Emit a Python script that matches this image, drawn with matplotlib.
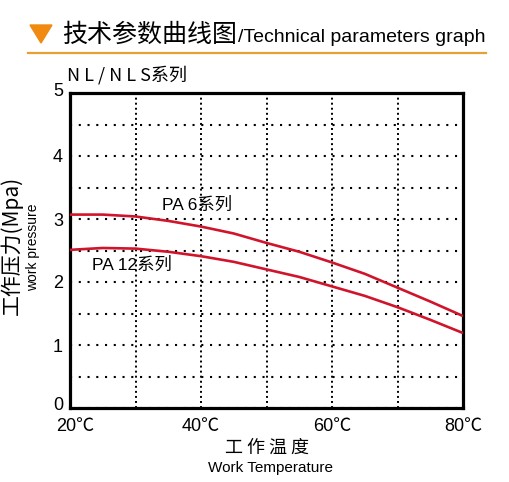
import matplotlib
matplotlib.use('Agg')
import matplotlib.pyplot as plt
from matplotlib.patches import Polygon
from matplotlib.lines import Line2D
from matplotlib.transforms import ScaledTranslation

plt.rcParams['font.family'] = ['Liberation Sans', 'Noto Sans CJK SC', 'DejaVu Sans']

# data
temps = [20, 25, 30, 35, 40, 45, 50, 55, 60, 65, 70, 75, 80]
pa6 = [3.07, 3.07, 3.04, 2.97, 2.88, 2.77, 2.62, 2.48, 2.31, 2.13, 1.91, 1.69, 1.46]
pa12 = [2.51, 2.54, 2.53, 2.48, 2.41, 2.32, 2.20, 2.08, 1.93, 1.78, 1.60, 1.40, 1.19]
xticks = [20, 40, 60, 80]
xtick_labels = ['20℃', '40℃', '60℃', '80℃']
yticks = [0, 1, 2, 3, 4, 5]

RED = '#d0142c'
ORANGE = '#f08a10'
cjk = ['Noto Sans CJK SC', 'DejaVu Sans']
mixed = ['Liberation Sans', 'Noto Sans CJK SC']

fig = plt.figure(figsize=(5.1, 4.82), dpi=100)
ax = fig.add_axes([70/510, 1-408/482, 393/510, 315/482])

ax.plot(temps, pa6, color=RED, lw=1.9, zorder=3, solid_capstyle='butt')
ax.plot(temps, pa12, color=RED, lw=1.9, zorder=3, solid_capstyle='butt')

ax.set_xlim(20, 80)
ax.set_ylim(0, 5)
ax.set_xticks(xticks)
ax.set_xticklabels(xtick_labels, family=mixed, fontsize=13)
ax.set_xticks(range(30, 80, 20), minor=True)
ax.set_yticks(yticks)
ax.set_yticks([i + 0.5 for i in range(5)], minor=True)
ax.tick_params(which='both', length=0)
ax.tick_params(axis='y', labelsize=13, pad=5)
ax.tick_params(axis='x', pad=7)

# nudge corner labels apart like the original
lbl0 = ax.get_yticklabels()[0]
lbl0.set_transform(lbl0.get_transform() + ScaledTranslation(0, 4/100, fig.dpi_scale_trans))
lbl5 = ax.get_yticklabels()[-1]
lbl5.set_transform(lbl5.get_transform() + ScaledTranslation(0, 3/100, fig.dpi_scale_trans))
lblx = ax.get_xticklabels()[0]
lblx.set_transform(lblx.get_transform() + ScaledTranslation(5/100, 0, fig.dpi_scale_trans))

# dotted grid, vertical dense, horizontal sparse
ax.xaxis.grid(True, which='both', color='black', lw=1.4, linestyle=(0, (1, 1.6)))
ax.yaxis.grid(True, which='both', color='black', lw=1.5, linestyle=(0, (1, 3.2)))
ax.set_axisbelow(True)
for s in ax.spines.values():
    s.set_linewidth(2.3)

ax.text(34.0, 3.22, 'PA 6系列', fontsize=12.5, family=mixed, va='center')
ax.text(23.4, 2.27, 'PA 12系列', fontsize=12.5, family=mixed, va='center')

# header
tri = Polygon([[30/510, 1-25/482], [52/510, 1-25/482], [41/510, 1-43/482]],
              closed=True, transform=fig.transFigure, color=ORANGE)
fig.patches.append(tri)
fig.lines.append(Line2D([28/510, 486/510], [1-53/482, 1-53/482], transform=fig.transFigure,
                        color='#e8a033', lw=1.6))
fig.text(62/510, 1-35/482, '技术参数曲线图', family=cjk, fontsize=18, va='center')
fig.text(238/510, 1-37/482, '/Technical parameters graph', fontsize=14, va='center')
fig.text(67/510, 1-75/482, 'N L / N L S系列', family=cjk, fontsize=13, va='center')

# axis titles
fig.text(12/510, 1-245/482, '工作压力(Mpa)', family=cjk, fontsize=15, rotation=90,
         ha='center', va='center')
fig.text(33/510, 1-247/482, 'work pressure', fontsize=10, rotation=90,
         ha='center', va='center')
fig.text(267/510, 1-448/482, '工 作 温 度', family=cjk, fontsize=13, ha='center', va='center')
fig.text(270/510, 1-468/482, 'Work Temperature', fontsize=11, ha='center', va='center')

fig.savefig('out.png', dpi=100)
